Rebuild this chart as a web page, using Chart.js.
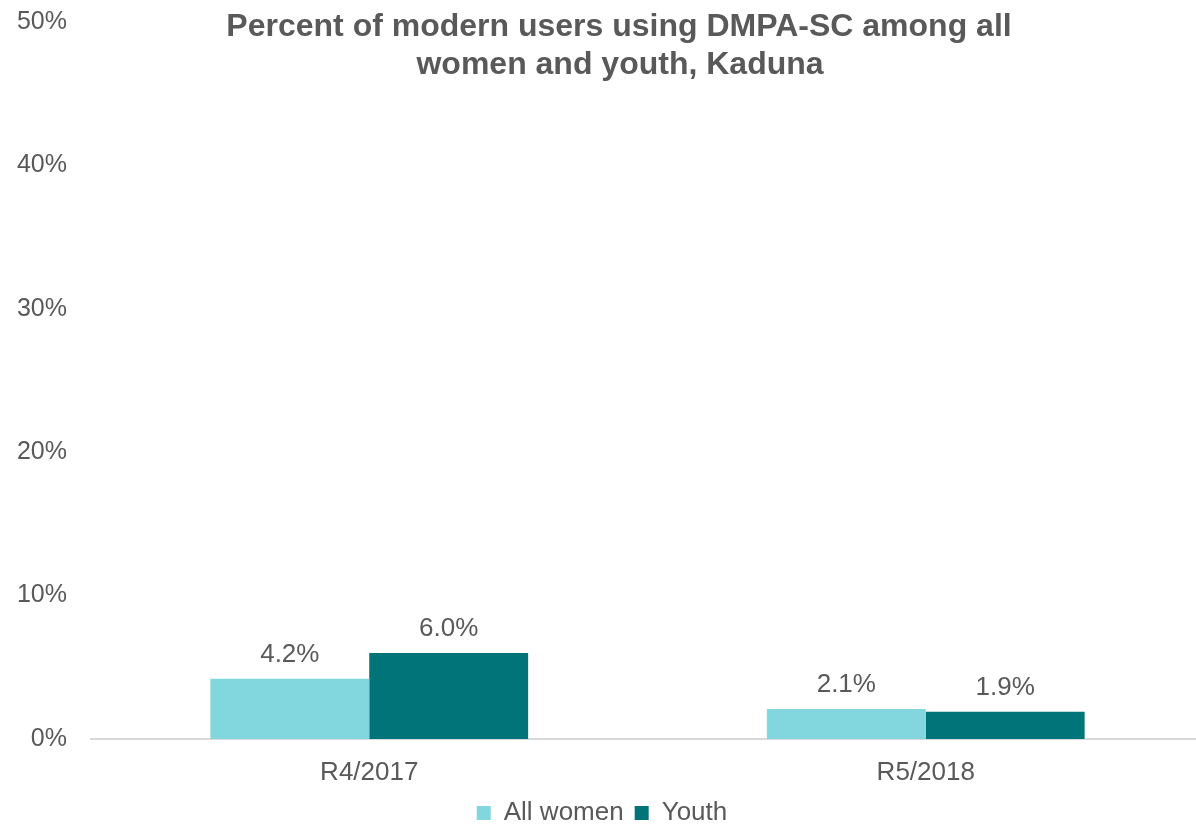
<!DOCTYPE html>
<html>
<head>
<meta charset="utf-8">
<script src="https://cdn.jsdelivr.net/npm/chart.js@4/dist/chart.umd.min.js"></script>
<style>
  html, body { margin: 0; padding: 0; background: #ffffff; overflow: hidden; }
  #wrap { width: 1204px; height: 824px; }
</style>
</head>
<body>
<div id="wrap"><canvas id="c" width="1204" height="824"></canvas></div>
<script>
// Survey rounds and DMPA-SC share among modern method users (%)
const rounds = ['R4/2017', 'R5/2018'];
const allWomen = [4.2, 2.1];
const youth = [6.0, 1.9];
const seriesNames = ['All women', 'Youth'];
const titleLines = ['Percent of modern users using DMPA-SC among all', 'women and youth, Kaduna'];

const textColor = '#595959';
const fontFamily = '"Liberation Sans", Arial, sans-serif';

// Draws the two-line heading over the top of the plot
const headingPlugin = {
  id: 'heading',
  afterDraw(chart) {
    const ctx = chart.ctx;
    ctx.save();
    ctx.fillStyle = textColor;
    ctx.font = 'bold 32px ' + fontFamily;
    ctx.textAlign = 'center';
    ctx.textBaseline = 'alphabetic';
    ctx.fillText(titleLines[0], 619, 36);
    ctx.fillText(titleLines[1], 620, 74);
    ctx.restore();
  }
};

// Writes each bar's value just above it
const valueLabels = {
  id: 'valueLabels',
  afterDatasetsDraw(chart) {
    const ctx = chart.ctx;
    ctx.save();
    ctx.fillStyle = textColor;
    ctx.font = '26px ' + fontFamily;
    ctx.textAlign = 'center';
    ctx.textBaseline = 'alphabetic';
    chart.data.datasets.forEach((ds, i) => {
      chart.getDatasetMeta(i).data.forEach((bar, j) => {
        ctx.fillText(ds.data[j].toFixed(1) + '%', bar.x, bar.y - 17);
      });
    });
    ctx.restore();
  }
};

new Chart(document.getElementById('c'), {
  type: 'bar',
  data: {
    labels: rounds,
    datasets: [
      { label: seriesNames[0], data: allWomen, backgroundColor: '#82D6DE' },
      { label: seriesNames[1], data: youth, backgroundColor: '#007478' }
    ]
  },
  options: {
    responsive: false,
    animation: false,
    layout: { padding: { top: 22, left: 0, right: 0, bottom: -12 } },
    datasets: { bar: { categoryPercentage: 0.571, barPercentage: 1.0 } },
    scales: {
      x: {
        grid: { display: false },
        border: { display: true, color: '#D9D9D9', width: 2 },
        ticks: { color: textColor, font: { family: fontFamily, size: 26 }, padding: 10 },
        afterFit(s) { s.height = 50; }
      },
      y: {
        min: 0, max: 50,
        grid: { display: false },
        border: { display: false },
        ticks: {
          stepSize: 10,
          color: textColor,
          font: { family: fontFamily, size: 25 },
          padding: 16,
          callback: v => v + '%'
        },
        afterFit(s) { s.width = 91; s.paddingTop = 0; s.paddingBottom = 0; }
      }
    },
    plugins: {
      legend: {
        position: 'bottom',
        labels: {
          color: textColor,
          font: { family: fontFamily, size: 26 },
          boxWidth: 14, boxHeight: 14,
          padding: 11
        }
      },
      tooltip: { enabled: false }
    }
  },
  plugins: [headingPlugin, valueLabels]
});
</script>
</body>
</html>
